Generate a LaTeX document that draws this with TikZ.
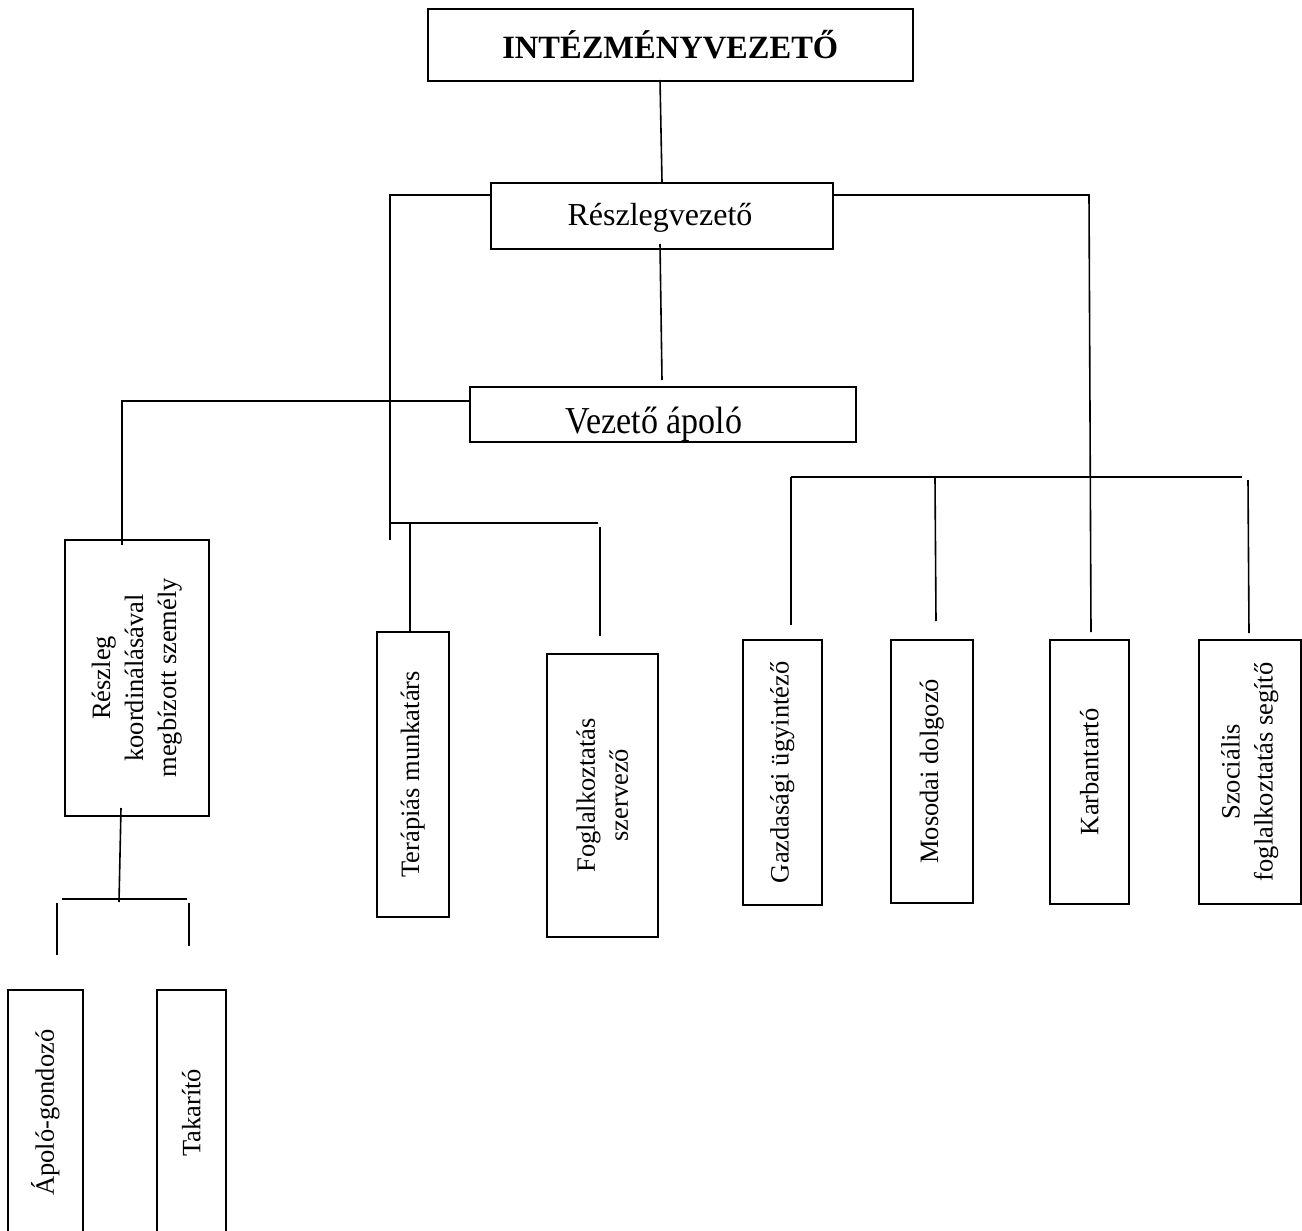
\documentclass[tikz,border=0pt]{standalone}
\usepackage{fontspec}
\setmainfont{Liberation Serif}
\begin{document}
\begin{tikzpicture}[x=1pt,y=-1pt,
  box/.style={draw,line width=1.6pt,rectangle,inner sep=0pt,anchor=north west},
  conn/.style={line width=1.6pt},
  txt/.style={font=\fontsize{26.5}{33}\selectfont,align=center,inner sep=0pt},
  htxt/.style={font=\fontsize{32}{38}\selectfont,inner sep=0pt},
  vtxt/.style={txt,rotate=90}]
\useasboundingbox (0,0) rectangle (1302,1231);
\clip (0,0) rectangle (1302,1231);
% boxes
\node[box,minimum width=485pt,minimum height=72pt] (A) at (427,8) {};
\node[htxt,font=\fontsize{32.5}{38}\selectfont\bfseries] (At) at (A.center) {INTÉZMÉNYVEZETŐ};
\node[box,minimum width=342pt,minimum height=66pt] (B) at (490,182) {};
\node[htxt,anchor=base] (Bt) at (660,225) {Részlegvezető};
\node[box,minimum width=386pt,minimum height=55pt] (C) at (469,386) {};
\node[htxt,font=\fontsize{34}{40}\selectfont,yscale=1.12,anchor=base] (Ct) at (654,433) {Vezető ápoló};
\node[box,minimum width=144pt,minimum height=276pt] (D) at (64,539) {};
\node[vtxt] (Dt) at (D.center) {Részleg\\koordinálásával\\megbízott személy};
\node[box,minimum width=75pt,minimum height=246pt] (E) at (7,989) {};
\node[vtxt] (Et) at (E.center) {Ápoló-gondozó};
\node[box,minimum width=69pt,minimum height=246pt] (F) at (156,989) {};
\node[vtxt] (Ft) at (F.center) {Takarító};
\node[box,minimum width=72pt,minimum height=285pt] (G) at (376,631) {};
\node[vtxt] (Gt) at (G.center) {Terápiás munkatárs};
\node[box,minimum width=111pt,minimum height=283pt] (H) at (546,653) {};
\node[vtxt] (Ht) at (H.center) {Foglalkoztatás\\szervező};
\node[box,minimum width=79pt,minimum height=265pt] (I) at (742,639) {};
\node[vtxt] (It) at (I.center) {Gazdasági ügyintéző};
\node[box,minimum width=82pt,minimum height=263pt] (J) at (890,639) {};
\node[vtxt] (Jt) at (J.center) {Mosodai dolgozó};
\node[box,minimum width=79pt,minimum height=264pt] (K) at (1049,639) {};
\node[vtxt] (Kt) at (K.center) {Karbantartó};
\node[box,minimum width=102pt,minimum height=264pt] (L) at (1198,639) {};
\node[vtxt] (Lt) at (L.center) {Szociális\\foglalkoztatás segítő};
% junction coordinates
\coordinate (bl) at (390,195);
\coordinate (ble) at (390,540);
\coordinate (gh1) at (390,523);
\coordinate (gh2) at (598,523);
\coordinate (g1) at (410,523);
\coordinate (h1) at (600,527);
\coordinate (h2) at (600,636);
\coordinate (br) at (1089,195);
\coordinate (bre) at (1091,632);
\coordinate (cl) at (122,401);
\coordinate (cle) at (122,545);
\coordinate (d1) at (121,808);
\coordinate (d2) at (119,902);
\coordinate (dl) at (62,899);
\coordinate (dr) at (187,899);
\coordinate (e1) at (57,903);
\coordinate (e2) at (57,955);
\coordinate (f1) at (189,903);
\coordinate (f2) at (189,946);
\coordinate (r1) at (791,477);
\coordinate (r2) at (1242,477);
\coordinate (i2) at (791,625);
\coordinate (j1) at (935,478);
\coordinate (j2) at (936,621);
\coordinate (l1) at (1248,480);
\coordinate (l2) at (1249,633);
% connectors
\draw[conn] (660,80) -- (662,182);
\draw[conn] (B.west |- bl) -- (bl) -- (ble);
\draw[conn] (gh1) -- (gh2);
\draw[conn] (g1) -- (g1 |- G.north);
\draw[conn] (h1) -- (h2);
\draw[conn] (B.east |- br) -- (br) -- (bre);
\draw[conn] (660,244) -- (662,380);
\draw[conn] (C.west |- cl) -- (cl) -- (cle);
\draw[conn] (d1) -- (d2);
\draw[conn] (dl) -- (dr);
\draw[conn] (e1) -- (e2);
\draw[conn] (f1) -- (f2);
\draw[conn] (r1) -- (r2);
\draw[conn] (r1) -- (i2);
\draw[conn] (j1) -- (j2);
\draw[conn] (l1) -- (l2);
\end{tikzpicture}
\end{document}
